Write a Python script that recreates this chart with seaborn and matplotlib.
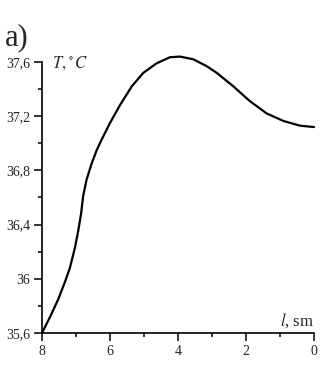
import matplotlib
matplotlib.use("Agg")
import matplotlib.pyplot as plt
import seaborn as sns
import pandas as pd
from matplotlib.ticker import MultipleLocator, FixedLocator, FixedFormatter

# Data
length_sm = [8.00, 7.76, 7.52, 7.32, 7.18, 7.03, 6.93, 6.85, 6.79, 6.69, 6.54, 6.39,
             6.24, 6.00, 5.71, 5.36, 5.02, 4.63, 4.24, 3.94, 3.55, 3.16, 2.86, 2.37,
             1.88, 1.39, 0.90, 0.41, 0.00]
temp_c = [35.60, 35.72, 35.85, 35.98, 36.08, 36.23, 36.36, 36.48, 36.61, 36.73, 36.85, 36.95,
          37.03, 37.15, 37.28, 37.42, 37.52, 37.59, 37.635, 37.64, 37.62, 37.57, 37.52, 37.42,
          37.31, 37.22, 37.165, 37.13, 37.12]
x_ticks = [8, 6, 4, 2, 0]
x_tick_labels = ["8", "6", "4", "2", "0"]
y_ticks = [35.6, 36.0, 36.4, 36.8, 37.2, 37.6]
y_tick_labels = ["35,6", "36", "36,4", "36,8", "37,2", "37,6"]

sns.set_theme(style="ticks")
plt.rcParams["font.family"] = ["Liberation Serif", "DejaVu Serif"]
plt.rcParams["mathtext.fontset"] = "stix"

df = pd.DataFrame({"l": length_sm, "T": temp_c})

fig = plt.figure(figsize=(3.27, 3.66), dpi=100)
ax = fig.add_axes([0.1284, 0.0902, 0.8318, 0.7404])
sns.lineplot(data=df, x="l", y="T", sort=False, color="black", linewidth=1.6, ax=ax)
for line in ax.get_lines():
    line.set_clip_on(False)
    line.set_solid_joinstyle("round")

ax.set_xlim(8, 0)
ax.set_ylim(35.6, 37.6)
ax.xaxis.set_major_locator(FixedLocator(x_ticks))
ax.xaxis.set_major_formatter(FixedFormatter(x_tick_labels))
ax.xaxis.set_minor_locator(MultipleLocator(1))
ax.yaxis.set_major_locator(FixedLocator(y_ticks))
ax.yaxis.set_major_formatter(FixedFormatter(y_tick_labels))
ax.yaxis.set_minor_locator(MultipleLocator(0.2))

for side in ["top", "right"]:
    ax.spines[side].set_visible(False)
for side in ["left", "bottom"]:
    ax.spines[side].set_linewidth(1.2)
    ax.spines[side].set_color("black")

ax.tick_params(which="major", length=5.5, width=1.1, color="black", labelsize=10, pad=3, labelcolor="#222222")
ax.tick_params(which="minor", length=3, width=1.1, color="black")
ax.set_xlabel("")
ax.set_ylabel("")

ax.text(0.037, 0.978, r"$T,^{\circ}\,C$", transform=ax.transAxes, fontsize=12,
        ha="left", va="baseline")
ax.text(1.0, 0.026, r"$l$, sm", transform=ax.transAxes, fontsize=12,
        ha="right", va="baseline")
fig.text(0.015, 0.877, "a)", fontsize=22, ha="left", va="baseline")

fig.savefig("out.png", dpi=100)
